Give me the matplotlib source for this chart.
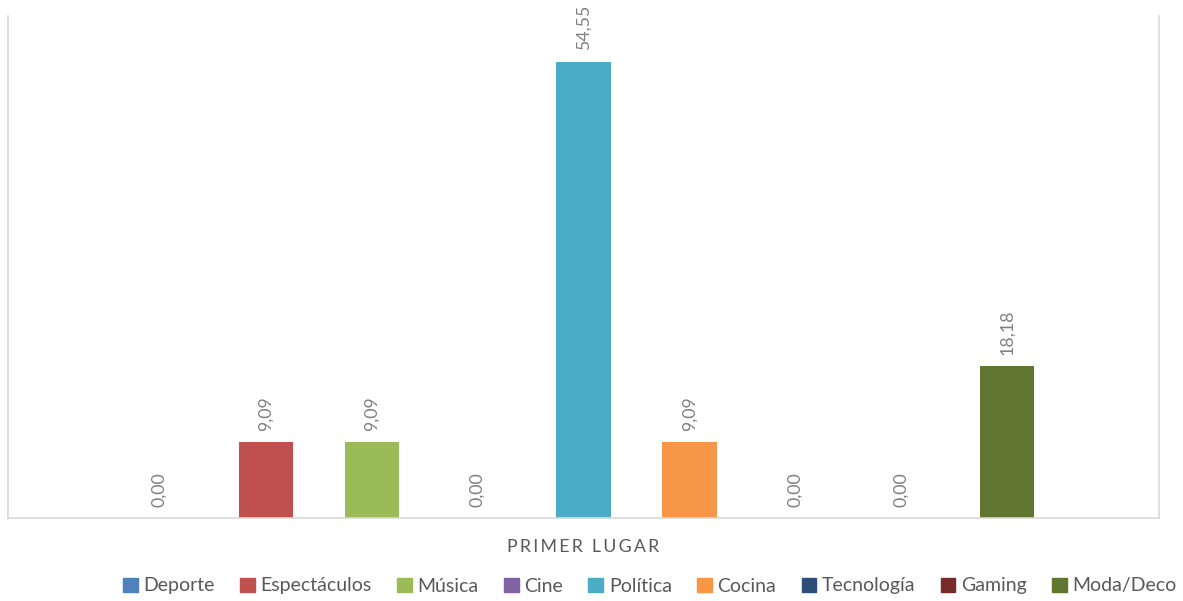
import matplotlib
matplotlib.use("Agg")
import matplotlib.pyplot as plt
from matplotlib.patches import Patch

plt.rcParams['font.family'] = ['Lato', 'DejaVu Sans']

categories = ["Deporte", "Espectáculos", "Música", "Cine", "Política",
              "Cocina", "Tecnología", "Gaming", "Moda/Deco"]
values = [0.00, 9.09, 9.09, 0.00, 54.55, 9.09, 0.00, 0.00, 18.18]
colors = ["#4F81BD", "#C0504D", "#9BBB59", "#8064A2", "#4BACC6",
          "#F79646", "#2C4D75", "#772C2A", "#5F7530"]
group_label = "PRIMER LUGAR"

W, H = 1183, 601
fig = plt.figure(figsize=(W / 100, H / 100), dpi=100)
ax = fig.add_axes([8 / W, (H - 518) / H, (1159 - 8) / W, (518 - 16) / H])

n = len(categories)
xs = [i - (n - 1) / 2 for i in range(n)]
bars = ax.bar(xs, values, width=0.51, color=colors)

for x, v in zip(xs, values):
    ax.annotate(f"{v:.2f}".replace(".", ","), (x, v), xytext=(0, 8),
                textcoords="offset points", rotation=90, ha="center",
                va="bottom", color="#808080", fontsize=12.8)

ax.set_xlim(-5.43, 5.43)
ax.set_ylim(0, 60)
ax.set_xticks([])
ax.set_yticks([])
for side in ("left", "right", "bottom"):
    ax.spines[side].set_color("#D9D9D9")
    ax.spines[side].set_linewidth(1.2)
ax.spines["top"].set_visible(False)

# letter-spaced category title
spaced = "  ".join("\u2009".join(w) for w in group_label.split())
fig.text(583.5 / W, 1 - 547 / H, spaced, ha="center", va="center",
         color="#595959", fontsize=12.8)

handles = [Patch(color=c, label=l) for c, l in zip(colors, categories)]
fig.legend(handles=handles, loc="center", bbox_to_anchor=(650 / W, 1 - 586 / H),
           ncol=n, frameon=False, fontsize=14, handlelength=0.75,
           handleheight=0.75, handletextpad=0.3, columnspacing=1.3,
           labelcolor="#595959")

fig.savefig("out.png", dpi=100, facecolor="white")
